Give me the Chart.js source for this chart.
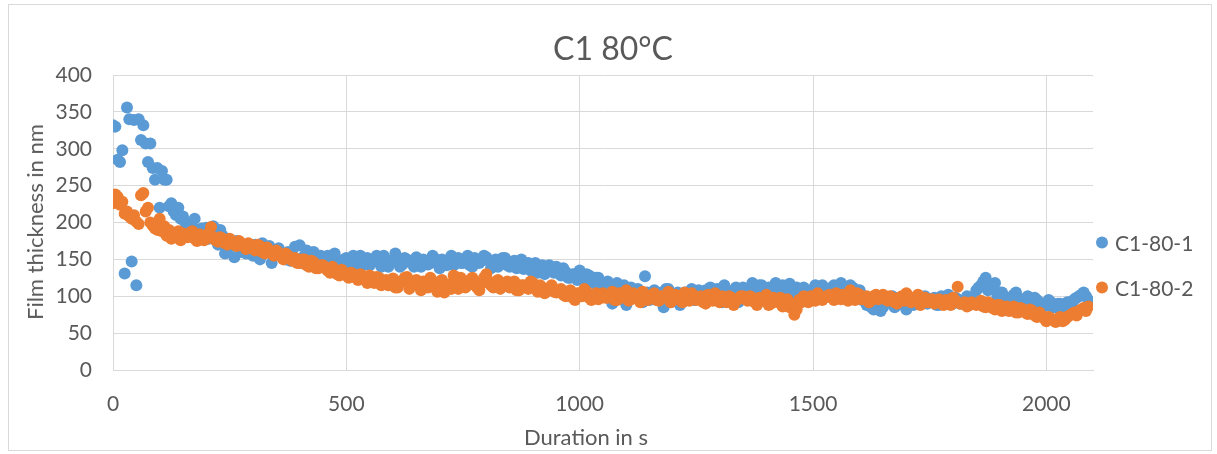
<!DOCTYPE html>
<html>
<head>
<meta charset="utf-8">
<title>C1 80°C</title>
<script src="https://cdn.jsdelivr.net/npm/chart.js@4.4.0/dist/chart.umd.min.js"></script>
<style>
  body { margin: 0; background: #fff; font-family: Lato, "Open Sans", sans-serif; color: #595959; }
  #wrap { position: relative; width: 1217px; height: 454px; overflow: hidden; }
  #frame { position: absolute; left: 8px; top: 4px; width: 1204px; height: 447px; border: 1px solid #d9d9d9; box-sizing: border-box; }
  canvas { position: absolute; left: 0; top: 0; }
  .txt { position: absolute; white-space: nowrap; transform: translate(-50%, -50%); line-height: 1; }
  #title { left: 613px; top: 48px; font-size: 32px; }
  #xTitle { left: 586px; top: 437px; font-size: 22px; }
  #yTitle { left: 35px; top: 222px; font-size: 22px; transform: translate(-50%, -50%) rotate(-90deg); }
  .leg { position: absolute; left: 1096px; font-size: 21px; line-height: 1; display: flex; align-items: center; transform: translateY(-50%); }
  .leg span.dot { width: 12px; height: 12px; border-radius: 50%; display: inline-block; margin-right: 7px; }
</style>
</head>
<body>
<div id="wrap">
  <div id="frame"></div>
  <canvas id="filmChart" width="1217" height="454"></canvas>
  <div class="txt" id="title">C1 80°C</div>
  <div class="txt" id="xTitle">Duration in s</div>
  <div class="txt" id="yTitle">Film thickness in nm</div>
  <div class="leg" id="leg1" style="top:242px"><span class="dot" style="background:#5B9BD5"></span>C1-80-1</div>
  <div class="leg" id="leg2" style="top:287px"><span class="dot" style="background:#ED7D31"></span>C1-80-2</div>
</div>
<script>
// Tiempos de medición (s), primera serie de lecturas
const times = [
  0, 5, 10, 15, 20, 25, 30, 35, 40, 45, 50, 55, 60, 65, 70, 75, 80, 85, 90, 95,
  100, 105, 110, 115, 120, 125, 130, 135, 140, 145,
  150, 160, 170, 180, 190, 200, 210, 220, 230, 240,
  250, 260, 270, 280, 290, 300, 310, 320, 330, 340,
  350, 360, 370, 380, 390, 400, 410, 420, 430, 440,
  450, 460, 470, 480, 490, 500, 510, 520, 530, 540,
  550, 560, 570, 580, 590, 600, 610, 620, 630, 640,
  650, 660, 670, 680, 690, 700, 710, 720, 730, 740,
  750, 760, 770, 780, 790, 800, 810, 820, 830, 840,
  850, 860, 870, 880, 890, 900, 910, 920, 930, 940,
  950, 960, 970, 980, 990, 1000, 1010, 1020, 1030, 1040,
  1050, 1060, 1070, 1080, 1090, 1100, 1110, 1120, 1130, 1140,
  1150, 1160, 1170, 1180, 1190, 1200, 1210, 1220, 1230, 1240,
  1250, 1260, 1270, 1280, 1290, 1300, 1310, 1320, 1330, 1340,
  1350, 1360, 1370, 1380, 1390, 1400, 1410, 1420, 1430, 1440,
  1450, 1460, 1470, 1480, 1490, 1500, 1510, 1520, 1530, 1540,
  1550, 1560, 1570, 1580, 1590, 1600, 1610, 1620, 1630, 1640,
  1650, 1660, 1670, 1680, 1690, 1700, 1710, 1720, 1730, 1740,
  1750, 1760, 1770, 1780, 1790, 1800, 1810, 1820, 1830, 1840,
  1850, 1860, 1870, 1880, 1890, 1900, 1910, 1920, 1930, 1940,
  1950, 1960, 1970, 1980, 1990, 2000, 2010, 2020, 2030, 2040,
  2050, 2060, 2070, 2080, 2090
];

// Tiempos intermedios (s), segunda serie de lecturas
const timesB = [
  155, 165, 175, 185, 195, 205, 215, 225, 235, 245,
  255, 265, 275, 285, 295, 305, 315, 325, 335, 345,
  355, 365, 375, 385, 395, 405, 415, 425, 435, 445,
  455, 465, 475, 485, 495, 505, 515, 525, 535, 545,
  555, 565, 575, 585, 595, 605, 615, 625, 635, 645,
  655, 665, 675, 685, 695, 705, 715, 725, 735, 745,
  755, 765, 775, 785, 795, 805, 815, 825, 835, 845,
  855, 865, 875, 885, 895, 905, 915, 925, 935, 945,
  955, 965, 975, 985, 995, 1005, 1015, 1025, 1035, 1045,
  1055, 1065, 1075, 1085, 1095, 1105, 1115, 1125, 1135, 1145,
  1155, 1165, 1175, 1185, 1195, 1205, 1215, 1225, 1235, 1245,
  1255, 1265, 1275, 1285, 1295, 1305, 1315, 1325, 1335, 1345,
  1355, 1365, 1375, 1385, 1395, 1405, 1415, 1425, 1435, 1445,
  1455, 1465, 1475, 1485, 1495, 1505, 1515, 1525, 1535, 1545,
  1555, 1565, 1575, 1585, 1595, 1605, 1615, 1625, 1635, 1645,
  1655, 1665, 1675, 1685, 1695, 1705, 1715, 1725, 1735, 1745,
  1755, 1765, 1775, 1785, 1795, 1805, 1815, 1825, 1835, 1845,
  1855, 1865, 1875, 1885, 1895, 1905, 1915, 1925, 1935, 1945,
  1955, 1965, 1975, 1985, 1995, 2005, 2015, 2025, 2035, 2045,
  2055, 2065, 2075, 2085
];

// Espesor de película C1-80-1 (nm)
const film1 = [
  332, 330, 285, 282, 298, 131, 356, 340, 147, 339, 115, 340, 312, 332, 307, 282, 307, 274, 258, 274,
  220, 270, 258, 258, 222, 226, 215, 210, 220, 205,
  208, 198, 195, 186, 192, 193, 180, 185, 190, 158,
  175, 153, 168, 162, 170, 155, 165, 172, 160, 145,
  162, 158, 150, 148, 167, 169, 155, 142, 160, 150,
  148, 155, 140, 150, 145, 152, 147, 140, 155, 148,
  142, 150, 146, 155, 140, 149, 152, 143, 150, 145,
  153, 140, 148, 145, 151, 138, 147, 150, 142, 152,
  145, 155, 140, 150, 148, 153, 138, 150, 145, 152,
  140, 148, 143, 137, 145, 140, 132, 142, 138, 135,
  140, 128, 133, 125, 130, 135, 122, 128, 118, 125,
  115, 120, 90, 118, 110, 88, 112, 105, 100, 127,
  95, 108, 100, 85, 110, 98, 105, 92, 100, 110,
  102, 95, 108, 112, 98, 105, 115, 100, 108, 92,
  112, 105, 118, 108, 115, 100, 110, 118, 105, 112,
  117, 108, 100, 112, 98, 110, 105, 115, 108, 112,
  105, 118, 110, 115, 100, 108, 96, 90, 82, 95,
  85, 92, 100, 88, 95, 82, 98, 90, 95, 100,
  92, 98, 88, 95, 102, 90, 96, 92, 100, 95,
  108, 115, 125, 110, 118, 105, 100, 95, 102, 98,
  92, 100, 88, 95, 90, 87, 92, 85, 90, 88,
  92, 96, 100, 105, 95
];
const film1B = [
  200, 190, 205, 188, 185, 178, 195, 170, 182, 165,
  168, 175, 160, 158, 165, 170, 150, 160, 168, 155,
  165, 152, 160, 155, 150, 145, 162, 150, 145, 155,
  152, 145, 158, 142, 150, 145, 155, 150, 142, 152,
  148, 155, 140, 150, 145, 158, 140, 152, 148, 140,
  145, 150, 143, 155, 145, 150, 142, 155, 148, 145,
  150, 142, 152, 145, 155, 148, 145, 140, 152, 142,
  145, 138, 150, 140, 135, 145, 138, 130, 142, 132,
  132, 138, 125, 130, 122, 128, 130, 120, 125, 115,
  118, 108, 112, 100, 115, 95, 105, 110, 92, 105,
  102, 95, 105, 110, 92, 100, 88, 105, 98, 95,
  108, 100, 95, 105, 110, 92, 105, 98, 112, 105,
  108, 98, 110, 115, 102, 112, 105, 100, 115, 108,
  105, 112, 108, 95, 105, 115, 100, 110, 102, 115,
  112, 105, 100, 112, 108, 95, 88, 85, 90, 80,
  90, 95, 85, 92, 100, 95, 88, 92, 98, 90,
  95, 88, 100, 92, 95, 98, 90, 95, 88, 100,
  112, 120, 108, 115, 100, 105, 98, 92, 105, 95,
  95, 90, 98, 92, 88, 95, 85, 90, 86, 92,
  90, 98, 102, 100
];

// Espesor de película C1-80-2 (nm)
const film2 = [
  226, 238, 235, 224, 228, 212, 215, 208, 205, 210, 201, 198, 237, 240, 215, 220, 200, 196, 192, 190,
  205, 188, 195, 182, 190, 178, 186, 180, 188, 176,
  185, 180, 188, 175, 182, 178, 194, 176, 180, 172,
  178, 170, 175, 168, 172, 165, 170, 160, 166, 158,
  162, 155, 158, 150, 152, 145, 150, 140, 146, 138,
  142, 135, 140, 130, 136, 128, 132, 125, 130, 122,
  128, 118, 125, 120, 115, 124, 112, 120, 126, 115,
  122, 108, 118, 125, 112, 120, 105, 116, 128, 110,
  120, 115, 125, 112, 118, 130, 115, 120, 110, 118,
  112, 120, 108, 115, 110, 118, 106, 112, 108, 115,
  105, 110, 100, 108, 95, 104, 110, 98, 102, 96,
  104, 98, 106, 95, 100, 108, 96, 102, 92, 100,
  98, 104, 94, 100, 106, 95, 100, 92, 98, 104,
  95, 100, 90, 98, 104, 92, 96, 100, 88, 96,
  100, 94, 98, 88, 96, 102, 90, 95, 98, 92,
  85, 75, 95, 100, 92, 98, 104, 95, 100, 98,
  104, 96, 100, 108, 95, 102, 98, 92, 100, 96,
  102, 94, 98, 90, 100, 104, 92, 96, 88, 98,
  94, 90, 96, 88, 92, 98, 113, 90, 86, 92,
  88, 94, 85, 90, 82, 88, 84, 80, 86, 78,
  82, 76, 80, 72, 74, 66, 70, 65, 72, 68,
  74, 78, 80, 84, 86
];
const film2B = [
  182, 186, 178, 184, 176, 185, 180, 174, 178, 170,
  174, 168, 172, 164, 170, 162, 168, 158, 162, 155,
  158, 150, 155, 148, 145, 150, 142, 148, 138, 142,
  138, 132, 136, 128, 132, 125, 130, 122, 128, 118,
  122, 126, 115, 122, 118, 112, 120, 125, 110, 120,
  115, 120, 112, 118, 106, 122, 115, 110, 120, 125,
  112, 122, 118, 108, 125, 118, 112, 122, 115, 120,
  118, 108, 115, 112, 120, 110, 115, 104, 110, 106,
  108, 102, 106, 98, 104, 100, 106, 95, 104, 100,
  98, 102, 95, 104, 98, 94, 104, 98, 106, 95,
  102, 95, 100, 98, 92, 102, 96, 105, 94, 100,
  98, 92, 102, 94, 98, 100, 92, 98, 94, 100,
  96, 100, 92, 98, 94, 88, 98, 92, 86, 96,
  90, 82, 92, 96, 100, 94, 100, 98, 102, 95,
  100, 102, 94, 98, 104, 96, 100, 95, 102, 98,
  96, 100, 92, 98, 94, 100, 96, 102, 94, 92,
  96, 92, 90, 95, 88, 94, 90, 92, 88, 90,
  90, 86, 92, 84, 88, 80, 86, 82, 78, 84,
  78, 82, 74, 78, 70, 72, 68, 70, 66, 72,
  76, 74, 82, 80
];

const xTicks = [0, 500, 1000, 1500, 2000];
const yTicks = [0, 50, 100, 150, 200, 250, 300, 350, 400];

// Une las dos series de lecturas en puntos {x, y}
function toPoints(values, valuesB) {
  const pts = values.map((v, i) => ({ x: times[i], y: v }));
  valuesB.forEach((v, i) => pts.push({ x: timesB[i], y: v }));
  return pts;
}

window.onload = function() {
  const ctx = document.getElementById('filmChart').getContext('2d');
  const gridColor = '#d9d9d9';
  const tickFont = { family: 'Lato', size: 21 };

  new Chart(ctx, {
    type: 'scatter',
    data: {
      datasets: [{
        label: 'C1-80-1',
        data: toPoints(film1, film1B),
        backgroundColor: '#5B9BD5',
        borderWidth: 0,
        pointRadius: 6,
        order: 1
      }, {
        label: 'C1-80-2',
        data: toPoints(film2, film2B),
        backgroundColor: '#ED7D31',
        borderWidth: 0,
        pointRadius: 6,
        order: 0
      }]
    },
    options: {
      responsive: false,
      animation: false,
      layout: { padding: { left: 20, right: 124, top: 75, bottom: 0 } },
      plugins: {
        legend: { display: false },
        tooltip: { enabled: false }
      },
      scales: {
        x: {
          type: 'linear',
          min: 0,
          max: 2100,
          afterBuildTicks: (scale) => { scale.ticks = xTicks.map(v => ({ value: v })); },
          afterFit: (scale) => { scale.height = 84; },
          grid: { color: gridColor, drawTicks: false },
          border: { color: gridColor },
          ticks: { color: '#595959', font: tickFont, padding: 22, maxRotation: 0, callback: (v) => String(v) }
        },
        y: {
          min: 0,
          max: 400,
          afterBuildTicks: (scale) => { scale.ticks = yTicks.map(v => ({ value: v })); },
          afterFit: (scale) => { scale.width = 93; },
          grid: { color: gridColor, drawTicks: false },
          border: { color: gridColor },
          ticks: { color: '#595959', font: tickFont, padding: 21, callback: (v) => String(v) }
        }
      }
    }
  });
};
</script>
</body>
</html>
